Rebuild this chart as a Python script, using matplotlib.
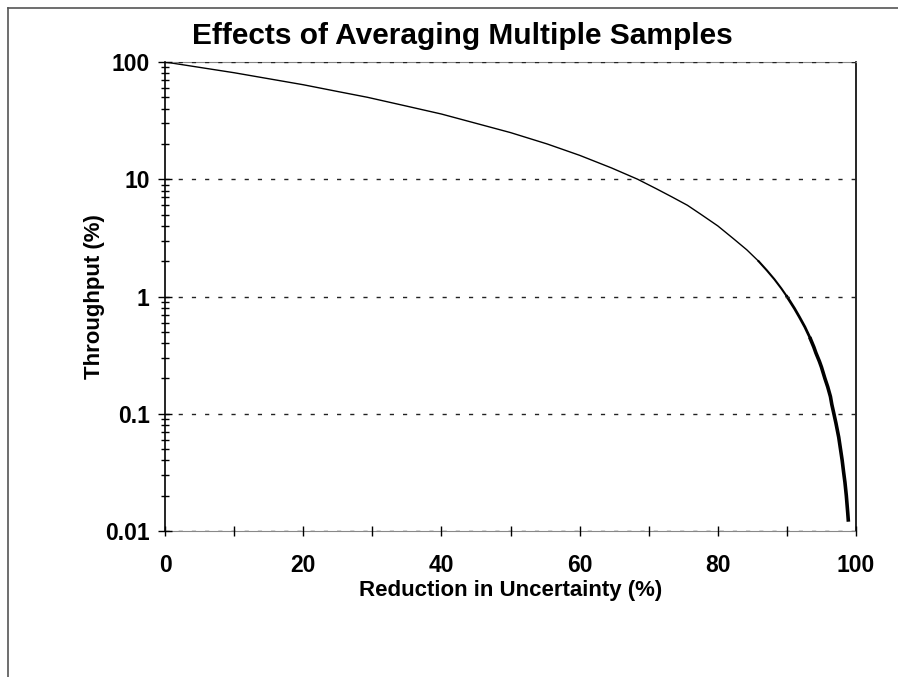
import matplotlib.pyplot as plt
from matplotlib.lines import Line2D

plt.rcParams['font.family'] = ['Liberation Sans', 'DejaVu Sans']
plt.rcParams['font.weight'] = 'bold'

# values
reduction = [0, 5, 10, 15, 20, 25, 29.3, 35, 40, 45, 50, 55.3, 60, 64.6, 68.4,
             71.1, 73.3, 75.6, 77.6, 80, 82.3, 84.2, 85.9, 87.1, 88.2, 89.2, 90,
             91.1, 91.8, 92.6, 93.3, 93.9, 94.2, 94.7, 95, 95.5, 95.9, 96.3,
             96.5, 96.8, 97.1, 97.5, 97.8, 98.0, 98.2, 98.4, 98.6, 98.8, 98.9, 99.1]
throughput = [100, 90, 81, 72, 64, 56, 50, 42, 36, 30, 25, 20, 16, 12.5, 10,
              8.3, 7.1, 6, 5, 4, 3.1, 2.5, 2, 1.67, 1.4, 1.17, 1,
              0.79, 0.67, 0.55, 0.45, 0.37, 0.33, 0.28, 0.25, 0.2, 0.17, 0.14,
              0.12, 0.1, 0.083, 0.063, 0.048, 0.04, 0.032, 0.026, 0.02, 0.0144, 0.012, 0.0121]
x_ticks = [0, 20, 40, 60, 80, 100]
y_ticks = [0.01, 0.1, 1, 10, 100]
y_labels = ['0.01', '0.1', '1', '10', '100']

fig = plt.figure(figsize=(8.98, 6.77), dpi=100)
ax = fig.add_axes([165 / 898, 1 - 531 / 677, (856 - 165) / 898, (531 - 62) / 677])

# the curve gets heavier toward the end where the samples crowd together
i1 = reduction.index(85.9)
i2 = reduction.index(90)
i3 = reduction.index(93.3)
ax.plot(reduction[:i1 + 1], throughput[:i1 + 1], color='black', lw=1.0)
ax.plot(reduction[i1:i2 + 1], throughput[i1:i2 + 1], color='black', lw=1.5)
ax.plot(reduction[i2:i3 + 1], throughput[i2:i3 + 1], color='black', lw=2.0)
ax.plot(reduction[i3:-1], throughput[i3:-1], color='black', lw=2.6,
        solid_capstyle='butt')

ax.set_yscale('log')
ax.set_xlim(0, 100)
ax.set_ylim(0.01, 100)
ax.set_xticks(x_ticks)
ax.set_xticks(range(0, 101, 10), minor=True)
ax.set_yticks(y_ticks)
ax.set_yticklabels(y_labels)

ax.tick_params(axis='both', which='major', labelsize=16.5, direction='inout',
               color='black', width=1)
ax.tick_params(axis='y', which='major', length=10, pad=6)
ax.tick_params(axis='y', which='minor', direction='inout', length=6, width=1)
ax.tick_params(axis='x', which='major', length=7, pad=13)
ax.tick_params(axis='x', which='minor', direction='inout', length=7, width=1)

ax.yaxis.grid(True, which='major', color='#222222', linestyle=(0, (3, 6.5)), lw=1)
ax.set_axisbelow(False)

ax.spines['top'].set_color('#888888')
ax.spines['bottom'].set_color('#888888')
ax.spines['left'].set_linewidth(1.2)
ax.spines['right'].set_linewidth(1.2)

ax.set_xlabel('Reduction in Uncertainty (%)', fontsize=16, fontweight='bold', labelpad=2)
ax.set_ylabel('Throughput (%)', fontsize=16, fontweight='bold', labelpad=0)

fig.text(462 / 898, 1 - 36 / 677, 'Effects of Averaging Multiple Samples',
         fontsize=21.5, fontweight='bold', ha='center', va='center')

# outer frame (left and top edges only visible)
fig.add_artist(Line2D([8 / 898, 8 / 898], [0, 1 - 8 / 677], color='#555555', lw=1.2))
fig.add_artist(Line2D([8 / 898, 1], [1 - 8 / 677, 1 - 8 / 677], color='#555555', lw=1.2))

fig.savefig('out.png', dpi=100)
